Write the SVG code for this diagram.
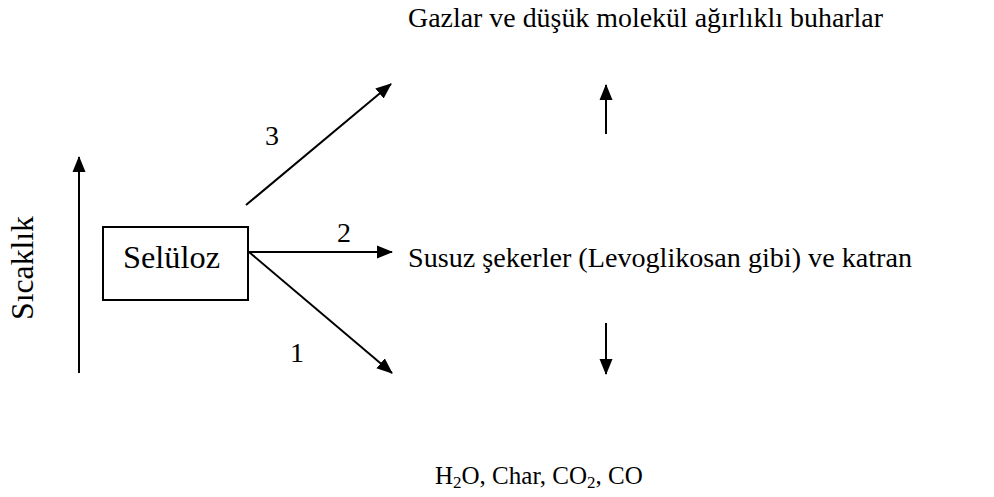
<svg xmlns="http://www.w3.org/2000/svg" width="994" height="497" viewBox="0 0 994 497">
<style>
text{font-family:'Liberation Serif','DejaVu Serif',serif;fill:#000}
.ln{stroke:#000;stroke-width:2;fill:none}
</style>
<defs>
<marker id="ahs" markerWidth="16" markerHeight="16" refX="15" refY="8" orient="auto" markerUnits="userSpaceOnUse" viewBox="0 0 16 16">
<path d="M0,1.5 L16,8 L0,14.5 Z" fill="#000"/>
</marker>
</defs>
<rect width="994" height="497" fill="#fff"/>
<g id="connectors">
<line class="ln" x1="79" y1="373" x2="79" y2="157" marker-end="url(#ahs)"/>
<line class="ln" x1="249" y1="252" x2="392" y2="252" marker-end="url(#ahs)"/>
<line class="ln" x1="249" y1="252" x2="392" y2="373" marker-end="url(#ahs)"/>
<line class="ln" x1="246" y1="205" x2="391" y2="84" marker-end="url(#ahs)"/>
<line class="ln" x1="606" y1="134" x2="606" y2="85" marker-end="url(#ahs)"/>
<line class="ln" x1="606" y1="323" x2="606" y2="374" marker-end="url(#ahs)"/>
</g>
<g id="labels" font-size="28">
<text x="272" y="145" text-anchor="middle">3</text>
<text x="344" y="242" text-anchor="middle">2</text>
<text x="297" y="362" text-anchor="middle">1</text>
</g>
<g id="node-seluloz">
<rect x="103" y="227" width="145" height="73" fill="none" stroke="#000" stroke-width="2"/>
<text x="123" y="268" font-size="31" textLength="97" lengthAdjust="spacingAndGlyphs">Selüloz</text>
</g>
<g id="node-sicaklik">
<text transform="translate(33,320) rotate(-90)" font-size="31" textLength="104" lengthAdjust="spacingAndGlyphs">Sıcaklık</text>
</g>
<g id="node-gazlar">
<text x="408" y="27" font-size="28" textLength="475" lengthAdjust="spacingAndGlyphs">Gazlar ve düşük molekül ağırlıklı buharlar</text>
</g>
<g id="node-susuz">
<text x="408" y="267" font-size="28" textLength="504" lengthAdjust="spacingAndGlyphs">Susuz şekerler (Levoglikosan gibi) ve katran</text>
</g>
<g id="node-char">
<text x="435" y="484" font-size="25">H<tspan font-size="17" dy="4">2</tspan><tspan dy="-4">O, Char, CO</tspan><tspan font-size="17" dy="4">2</tspan><tspan dy="-4">, CO</tspan></text>
</g>
</svg>
